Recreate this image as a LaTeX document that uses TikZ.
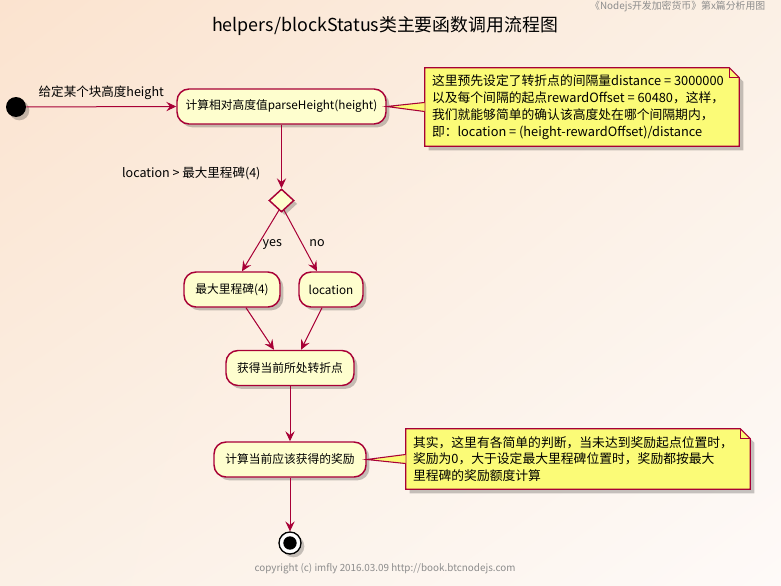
\documentclass[tikz,border=0pt]{standalone}
\usepackage{fontspec}
\setmainfont{Noto Sans CJK SC}
\usetikzlibrary{arrows.meta,shapes.geometric,shadows,shadings,calc}
\definecolor{umlred}{HTML}{A80036}
\definecolor{actfill}{HTML}{FEFECE}
\definecolor{notefill}{HTML}{FBFB77}
\definecolor{bgA}{HTML}{FBE3CF}
\definecolor{bgB}{HTML}{FBF0E5}
\definecolor{bgC}{HTML}{FEFAF8}
\definecolor{footgray}{HTML}{8C8C8C}
\tikzset{
  act/.style={draw=umlred, line width=1.1pt, fill=actfill, rounded corners=9pt,
    minimum height=26.25pt, inner xsep=0pt, font=\fontsize{8.8pt}{11pt}\selectfont,
    drop shadow={shadow xshift=2.5pt, shadow yshift=-2.5pt, opacity=0.22, fill=black}},
  dia/.style={shape=diamond, draw=umlred, line width=1.1pt, fill=actfill, inner sep=0pt,
    minimum width=18.75pt, minimum height=17.25pt,
    drop shadow={shadow xshift=2.5pt, shadow yshift=-2.5pt, opacity=0.22, fill=black}},
  flow/.style={draw=umlred, line width=0.75pt, -{Stealth[length=7.5pt,width=7pt,inset=2.8pt]}},
  lbl/.style={font=\fontsize{9.4pt}{11pt}\selectfont, inner sep=0pt, text=black},
  notetext/.style={font=\fontsize{9.6pt}{12.6pt}\selectfont, align=left, inner sep=0pt},
  notedraw/.style={draw=umlred, line width=0.8pt, fill=notefill},
  noteshadow/.style={fill=black, opacity=0.22},
}
\begin{document}
\begin{tikzpicture}[x=0.75pt,y=-0.75pt]
\shade[upper left=bgA, upper right=bgB, lower left=bgB, lower right=bgC] (0,0) rectangle (781,585);
\useasboundingbox (0,0) rectangle (781,585);

% header, title, footer
\node[anchor=east, text=footgray, font=\fontsize{7.4pt}{9pt}\selectfont] (hdr) at (770,7) {《Nodejs开发加密货币》第x篇分析用图};
\node[font=\fontsize{13.4pt}{16pt}\selectfont] (title) at (385,26) {helpers/blockStatus类主要函数调用流程图};
\node[text=footgray, font=\fontsize{7.4pt}{9pt}\selectfont] (foot) at (385,569) {copyright (c) imfly 2016.03.09 http://book.btcnodejs.com};

% activity nodes
\node[circle, fill=black, minimum size=15pt, inner sep=0pt,
  drop shadow={shadow xshift=2.5pt, shadow yshift=-2.5pt, opacity=0.22, fill=black}] (start) at (16,107) {};
\node[act, minimum width=156.75pt] (parse) at (281.5,106.5) {计算相对高度值parseHeight(height)};
\node[dia] (dec) at (281.5,200.5) {};
\node[act, minimum width=72pt] (maxm) at (232,289.5) {最大里程碑(4)};
\node[act, minimum width=48pt] (loc) at (331,289.5) {location};
\node[act, minimum width=96pt] (turn) at (290,368) {获得当前所处转折点};
\node[act, minimum width=114pt] (reward) at (290,459.5) {计算当前应该获得的奖励};
\node[circle, draw=black, line width=1pt, fill=white, minimum size=16.5pt, inner sep=0pt,
  drop shadow={shadow xshift=2.5pt, shadow yshift=-2.5pt, opacity=0.22, fill=black}] (stop) at (290,543) {};
\node[circle, fill=black, minimum size=10pt, inner sep=0pt] (stopin) at (stop) {};

% notes
\node[minimum width=235.5pt, minimum height=58.5pt, inner sep=0pt] (note1) at (582,107) {};
\fill[noteshadow] ([shift={(3pt,-3pt)}]note1.north west) -- ([shift={(-4.5pt,-3pt)}]note1.north east) -- ([shift={(3pt,-10.5pt)}]note1.north east) -- ([shift={(3pt,-3pt)}]note1.south east) -- ([shift={(3pt,-3pt)}]note1.south west) -- cycle;
\draw[notedraw] (note1.north west) -- ([xshift=-7.5pt]note1.north east) -- ([yshift=-7.5pt]note1.north east) -- (note1.south east) -- (note1.south west) -- cycle;
\draw[umlred, line width=0.8pt] ([xshift=-7.5pt]note1.north east) -- ([shift={(-7.5pt,-7.5pt)}]note1.north east) -- ([yshift=-7.5pt]note1.north east);
\draw[notedraw] ([yshift=3.4pt]note1.west) -- (parse.east) -- ([yshift=-3.4pt]note1.west);
\node[notetext, anchor=west] (note1t) at ([xshift=5.25pt]note1.west) {这里预先设定了转折点的间隔量distance = 3000000\\以及每个间隔的起点rewardOffset = 60480，这样，\\我们就能够简单的确认该高度处在哪个间隔期内，\\即：location = (height-rewardOffset)/distance};

\node[minimum width=258pt, minimum height=45pt, inner sep=0pt] (note2) at (578,459) {};
\fill[noteshadow] ([shift={(3pt,-3pt)}]note2.north west) -- ([shift={(-4.5pt,-3pt)}]note2.north east) -- ([shift={(3pt,-10.5pt)}]note2.north east) -- ([shift={(3pt,-3pt)}]note2.south east) -- ([shift={(3pt,-3pt)}]note2.south west) -- cycle;
\draw[notedraw] (note2.north west) -- ([xshift=-7.5pt]note2.north east) -- ([yshift=-7.5pt]note2.north east) -- (note2.south east) -- (note2.south west) -- cycle;
\draw[umlred, line width=0.8pt] ([xshift=-7.5pt]note2.north east) -- ([shift={(-7.5pt,-7.5pt)}]note2.north east) -- ([yshift=-7.5pt]note2.north east);
\draw[notedraw] ([yshift=3.4pt]note2.west) -- (reward.east) -- ([yshift=-3.4pt]note2.west);
\node[notetext, anchor=west] (note2t) at ([xshift=5.25pt]note2.west) {其实，这里有各简单的判断，当未达到奖励起点位置时，\\奖励为0，大于设定最大里程碑位置时，奖励都按最大\\里程碑的奖励额度计算};

% flows
\draw[flow] (start) -- node[lbl, midway, above=5pt] (l1) {给定某个块高度height} (parse.west);
\draw[flow] (parse) -- node[lbl, pos=0.77, left=15.4pt] (l2) {location > 最大里程碑(4)} (dec);
\draw[flow] (dec.255) -- node[lbl, pos=0.56, right=3pt] (l3) {yes} ($(maxm.north)+(10,0)$);
\draw[flow] (dec.285) -- node[lbl, pos=0.53, right=5.5pt] (l4) {no} ($(loc.north)+(-14,0)$);
\draw[flow] ($(maxm.south)+(14,0)$) -- ($(turn.north)+(-16,0)$);
\draw[flow] ($(loc.south)+(-9,0)$) -- ($(turn.north)+(11,0)$);
\draw[flow] (turn) -- (reward);
\draw[flow] (reward) -- (stop);
\end{tikzpicture}
\end{document}
